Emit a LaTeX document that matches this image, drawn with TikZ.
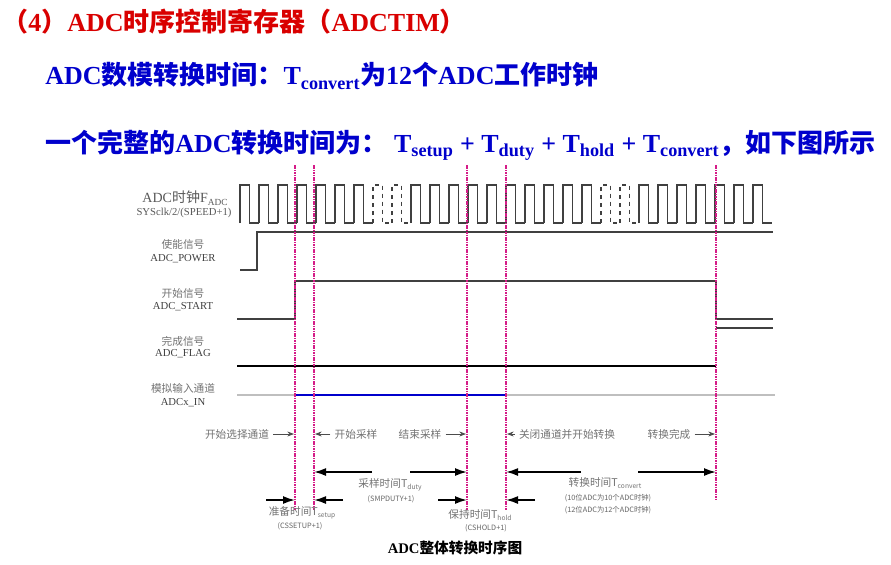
\documentclass[tikz,border=0pt]{standalone}
\usepackage{fontspec}
\setmainfont{Liberation Serif}
\newfontfamily\cjk{Noto Sans CJK SC}
\usetikzlibrary{arrows.meta}
\begin{document}
\begin{tikzpicture}[x=0.75pt,y=-0.75pt,
  sig/.style={line width=0.8pt,black!75},
  mag/.style={magenta!75!violet,dash pattern=on 1.2pt off 0.6pt,line width=0.8pt},
  lbl/.style={text=black!55,font=\cjk\fontsize{8}{9}\selectfont,inner sep=0pt},
  sml/.style={text=black!60,font=\cjk\fontsize{5.5}{6}\selectfont,inner sep=0pt},
  ann/.style={-{Stealth[length=5pt]},black!70,line width=0.6pt},
  big/.style={-{Latex[length=9pt,width=6pt]},black,line width=1.3pt},
  hd/.style={font=\bfseries\fontsize{19.5}{21}\selectfont,inner sep=0pt,anchor=west}]
\useasboundingbox[fill=white] (0,0) rectangle (891,564);
% header
\node[hd,text=red!85!black] (h1) at (2,22) {{\cjk （}4{\cjk ）}ADC{\cjk 时序控制寄存器（}ADCTIM{\cjk ）}};
\node[hd,text=blue!80!black] (h2) at (45,76) {ADC{\cjk 数模转换时间：}T\textsubscript{convert}{\cjk 为}12{\cjk 个}ADC{\cjk 工作时钟}};
\node[hd,text=blue!80!black] (h3) at (45,145) {{\cjk 一个完整的}ADC{\cjk 转换时间为：} T\textsubscript{setup} + T\textsubscript{duty} + T\textsubscript{hold} + T\textsubscript{convert}{\cjk ，如下图所示}};
% clock
\foreach \i in {0,...,27}{
  \pgfmathsetmacro{\xa}{240+19*\i}
  \ifnum\i=7 \def\st{dashed}\else\ifnum\i=8 \def\st{dashed}\else\ifnum\i=19 \def\st{dashed}\else\ifnum\i=20 \def\st{dashed}\else\def\st{solid}\fi\fi\fi\fi
  \draw[sig,\st] (\xa,223) -- (\xa,185) -- ({\xa+9.5},185) -- ({\xa+9.5},223) -- ({\xa+19},223);
}
% signals
\draw[sig] (240,270) -- (257,270) -- (257,232) -- (773,232);
\draw[sig] (237,319) -- (295,319) -- (295,281) -- (716,281) -- (716,319) -- (773,319);
\draw[sig] (716,328) -- (773,328);
\draw[sig,black] (237,366) -- (716,366);
\draw[black!25,line width=2pt] (237,395) -- (775,395);
\draw[blue!80!black,line width=2pt] (295,395) -- (506,395);
% magenta lines
\foreach \x/\n in {295/a,314/b,467/c,506/d,716/e}{
  \coordinate (t\n) at (\x,165); \coordinate (b\n) at (\x,\ifnum\x=716 500\else 510\fi);
  \draw[mag] (t\n) -- (b\n);}
% labels
\node[text=black!65,font=\fontsize{10.5}{11}\selectfont,inner sep=0pt] (c1) at (185,198) {ADC{\cjk 时钟}F{\fontsize{7}{8}\selectfont\raisebox{-2pt}{ADC}}};
\node[text=black!65,font=\fontsize{8}{8}\selectfont,inner sep=0pt] (c2) at (184,213) {SYSclk/2/(SPEED+1)};
\node[lbl] (p1) at (183,244) {使能信号};
\node[text=black!75,font=\fontsize{8}{8}\selectfont,inner sep=0pt] (p2) at (183,259) {ADC\_POWER};
\node[lbl] (s1) at (183,293) {开始信号};
\node[text=black!75,font=\fontsize{8}{8}\selectfont,inner sep=0pt] (s2) at (183,307) {ADC\_START};
\node[lbl] (f1) at (183,341) {完成信号};
\node[text=black!75,font=\fontsize{8}{8}\selectfont,inner sep=0pt] (f2) at (183,354) {ADC\_FLAG};
\node[lbl] (i1) at (183,388) {模拟输入通道};
\node[text=black!75,font=\fontsize{8}{8}\selectfont,inner sep=0pt] (i2) at (183,403) {ADCx\_IN};
% annotation row
\node[lbl] (n1) at (237,434) {开始选择通道};
\node[lbl] (n2) at (356,434) {开始采样};
\node[lbl] (n3) at (420,434) {结束采样};
\node[lbl] (n4) at (567,434) {关闭通道并开始转换};
\node[lbl] (n5) at (669,434) {转换完成};
\coordinate (e1) at (294,434); \coordinate (e2) at (315,434); \coordinate (e3) at (466,434);
\coordinate (e4) at (507,434); \coordinate (e5) at (715,434);
\draw[ann] (n1.east)++(4,0) -- (e1);
\draw[ann] (n2.west)++(-4,0) -- (e2);
\draw[ann] (n3.east)++(4,0) -- (e3);
\draw[ann] (n4.west)++(-4,0) -- (e4);
\draw[ann] (n5.east)++(4,0) -- (e5);
% big arrows
\coordinate (g1) at (372,472); \coordinate (g2) at (410,472);
\coordinate (g3) at (581,472); \coordinate (g4) at (638,472);
\draw[big] (g1) -- (314,472); \draw[big] (g2) -- (467,472);
\draw[big] (g3) -- (506,472); \draw[big] (g4) -- (716,472);
\draw[big] (266,500) -- (295,500); \draw[big] (343,500) -- (314,500);
\draw[big] (438,500) -- (467,500); \draw[big] (535,500) -- (506,500);
% timing texts
\node[lbl] (d1) at (390,485) {采样时间T{\fontsize{5}{6}\selectfont\raisebox{-1.5pt}{duty}}};
\node[sml] (d2) at (391,499) {(SMPDUTY+1)};
\node[lbl] (u1) at (302,513) {准备时间T{\fontsize{5}{6}\selectfont\raisebox{-1.5pt}{setup}}};
\node[sml] (u2) at (300,526) {(CSSETUP+1)};
\node[lbl] (o1) at (480,515) {保持时间T{\fontsize{5}{6}\selectfont\raisebox{-1.5pt}{hold}}};
\node[sml] (o2) at (486,528) {(CSHOLD+1)};
\node[lbl] (v1) at (605,483) {转换时间T{\fontsize{5}{6}\selectfont\raisebox{-1.5pt}{convert}}};
\node[sml] (v2) at (608,498) {(10位ADC为10个ADC时钟)};
\node[sml] (v3) at (608,510) {(12位ADC为12个ADC时钟)};
\node[font=\bfseries\fontsize{11}{12}\selectfont,inner sep=0pt] (cap) at (455,548) {ADC{\cjk 整体转换时序图}};
\end{tikzpicture}
\end{document}
